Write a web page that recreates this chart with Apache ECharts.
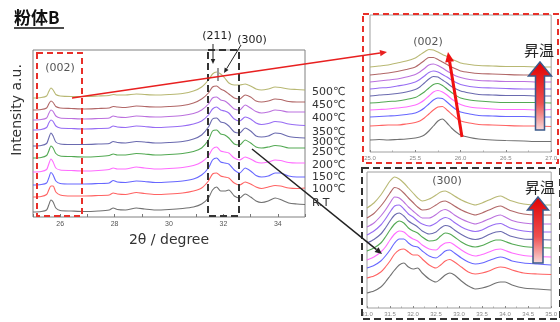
<!DOCTYPE html>
<html>
<head>
<meta charset="utf-8">
<script src="https://cdn.jsdelivr.net/npm/echarts@6/dist/echarts.min.js"></script>
<style>
html, body { margin: 0; padding: 0; background: #fff; }
#chart { width: 560px; height: 322px; }
</style>
</head>
<body>
<div id="chart"></div>
<script>
// traces, bottom to top
const tempLabels = ['R.T', '100℃', '150℃', '200℃', '250℃', '300℃', '350℃', '400℃', '450℃', '500℃'];
const traceColors = ['#626262', '#ff5252', '#5656ff', '#ff5cff', '#40a040', '#5a5aa6', '#8c5cf2', '#b462da', '#a85656', '#b0b064'];

// main panel: 2θ 25-35
const mainX = [25.0, 25.3, 25.5, 25.58, 25.66, 25.74, 25.84, 26.0, 26.4, 26.9, 27.4, 27.8, 27.95, 28.1, 28.4, 28.8, 29.1, 29.5, 30.0, 30.5, 30.9, 31.2, 31.45, 31.6, 31.75, 31.9, 32.05, 32.2, 32.4, 32.6, 32.8, 33.0, 33.2, 33.4, 33.65, 33.9, 34.1, 34.4, 34.7, 35.0];
const mainOffset = [5, 20, 32, 45, 59, 71, 87, 97, 107, 119];
const mainTraces = [
  [0, 0.5, 2, 7, 12, 10, 4, 1.5, 1, 0.5, 1, 2, 4, 2.5, 2, 4, 3, 2, 2.5, 3.5, 5, 8, 14, 22, 25, 21, 21, 22, 16, 14, 18, 15, 11, 9.5, 11, 14, 12.5, 9, 8, 7.5],
  [0, 0.5, 2.5, 7, 11, 11, 5, 2, 1, 1, 1.5, 2, 4, 3, 2.5, 4.5, 3.5, 2.5, 3, 4, 6, 9, 16, 23, 24, 21, 20, 19, 14, 12, 15, 13, 10, 8.5, 10, 11.5, 11, 9, 8.5, 9],
  [0, 0.5, 2, 7, 12.5, 10, 4, 1.5, 1, 1, 1.5, 2, 4.5, 3, 2.5, 4, 3.5, 2.5, 3, 4, 6, 10, 17, 25, 27, 23, 22, 21, 15, 12, 17, 14, 9.5, 8, 9, 12, 12, 9, 8, 8],
  [0, 0.5, 2.5, 8, 13, 10, 4, 2, 1.5, 1, 1.5, 2.5, 4, 3, 3, 5, 4, 3, 3.5, 4.5, 6.5, 10, 16, 23, 25, 21, 20, 19, 14, 12, 15, 13, 10, 9, 10, 12, 11.5, 9.5, 9, 9],
  [0, 0.5, 2.5, 7, 12, 10, 4.5, 2, 1.5, 1, 1.5, 2.5, 4, 3, 3, 4.5, 4, 3, 3.5, 4.5, 6.5, 10, 18, 27, 28, 24, 23, 20, 14, 13, 18, 15, 11, 10, 11, 12.5, 12, 10, 10, 10],
  [0, 0.5, 2.5, 8, 13, 10, 4, 2, 1.5, 1.5, 2, 2.5, 4.5, 3.5, 3, 4.5, 4, 3, 3.5, 4.5, 7, 11, 19, 27, 28, 24, 23, 20, 14, 13, 18, 15, 10, 9, 10, 13, 12.5, 9.5, 8.5, 8],
  [0, 0.5, 2.5, 7, 10, 8.5, 4, 2, 1.5, 1, 1.5, 2, 4, 3, 2.5, 4, 3.5, 2.5, 3, 4, 6, 9, 15, 21, 23, 20, 19, 17, 11, 9, 13, 11, 7, 5.5, 6.5, 8.5, 8, 6, 5, 4.5],
  [0, 0.5, 2, 6.5, 10, 8.5, 4, 2, 1.5, 1, 1.5, 2, 4, 3, 2.5, 4, 3.5, 3, 3.5, 4.5, 6.5, 10, 16, 22, 23, 20, 19, 16, 11, 10, 15, 12, 8.5, 7, 8, 10, 9.5, 8, 8, 8],
  [0, 0.5, 2, 6, 9, 7.5, 3.5, 2, 1.5, 1, 1.5, 2, 3.5, 3, 2.5, 4, 3.5, 3, 3.5, 4.5, 7, 11, 17, 23, 24, 21, 19, 16, 12, 11, 15, 13, 9, 8, 9, 11, 10.5, 8.5, 8, 8],
  [0, 0.5, 2, 6.5, 10, 8, 3.5, 2, 1.5, 1.5, 2, 2.5, 3.5, 3, 3, 4, 3.5, 3, 3.5, 4.5, 7, 11, 18, 24, 26, 24, 20, 15, 13, 13, 14, 12, 9, 8, 9, 11, 10.5, 9, 8.5, 8]
];

// inset (002): 25.0-27.0
const inset1X = [25.0, 25.1, 25.2, 25.3, 25.4, 25.5, 25.55, 25.6, 25.65, 25.7, 25.75, 25.8, 25.85, 25.9, 25.95, 26.0, 26.1, 26.2, 26.35, 26.5, 26.7, 26.85, 27.0];
const inset1Offset = [12, 26, 35, 42, 49, 56, 63, 70, 77, 85];
const inset1Traces = [
  [0, 0.5, 0, 0.5, 1, 2, 3, 5, 9, 14, 19, 21, 17, 12, 8, 5, 2.5, 1, 0, -0.5, -1, -1.5, -1.5],
  [0, 0.5, 1, 1, 2, 3.5, 5, 8, 12, 16, 19, 19.5, 16, 12, 8, 5, 3, 1.5, 1, 0.5, 0, 0, -0.5],
  [0, 0.5, 1, 1.5, 2.5, 4, 6, 9, 13, 17, 19, 18.5, 15, 11, 7.5, 5, 3, 1.5, 1, 0.5, 0.5, 0, 0],
  [0, 0.5, 1, 2, 3, 5, 7, 10, 14, 18, 19.5, 18, 15, 11, 8, 5.5, 3, 2, 1, 0.5, 0.5, 0, 0.5],
  [0, 0.5, 1.5, 2, 3.5, 5.5, 8, 11, 15, 18.5, 19.5, 17.5, 14, 10.5, 7.5, 5, 3, 2, 1, 0.5, 0.5, 0.5, 0],
  [0, 1, 1.5, 2.5, 4, 6.5, 9, 13, 17, 19.5, 19, 16, 13, 9.5, 7, 5, 3, 1.5, 1, 0.5, 0.5, 0, 0],
  [0, 1, 1.5, 3, 4.5, 7, 9.5, 13, 16.5, 18, 17, 14.5, 12, 9, 6.5, 4.5, 2.5, 1.5, 1, 0.5, 0, 0, 0],
  [0, 1, 2, 3, 5, 7.5, 10, 13.5, 17, 18, 16.5, 14, 11, 8.5, 6, 4.5, 2.5, 1.5, 1, 0.5, 0.5, 0, 0],
  [0, 1, 2, 3.5, 5.5, 8, 11, 14.5, 17.5, 17.5, 15.5, 13, 10.5, 8, 6, 4, 2.5, 1.5, 1, 0.5, 0, 0, 0],
  [0, 1, 2, 4, 6, 9, 12, 15, 17.5, 17, 15, 12.5, 10.5, 8, 6, 4, 2.5, 1.5, 1, 0.5, 0.5, 0, 0]
];

// inset (300): 31.0-35.0
const inset2X = [31.0, 31.15, 31.3, 31.4, 31.5, 31.6, 31.7, 31.8, 31.9, 32.0, 32.1, 32.2, 32.35, 32.5, 32.6, 32.7, 32.8, 32.9, 33.05, 33.2, 33.35, 33.5, 33.65, 33.8, 33.9, 34.0, 34.15, 34.4, 34.7, 35.0];
const inset2Offset = [15, 30, 40, 48, 57, 65, 73, 81, 90, 100];
const inset2Traces = [
  [0, 2, 6, 11, 17, 23, 28, 30, 26, 24, 25, 20, 14, 11, 14, 18, 20, 18, 12, 7, 4, 5, 7, 10, 11, 11, 8, 5, 4, 3],
  [0, 2, 6, 11, 17, 24, 28, 29, 26, 23, 23, 19, 13, 10, 13, 17, 18.5, 16, 11, 6, 4, 5, 7, 10, 11, 10.5, 8, 5, 4, 3.5],
  [0, 2.5, 7, 12, 18, 25, 29, 29, 25, 22, 21, 17, 12, 10, 13, 17, 18, 15, 10, 6, 4, 5, 7.5, 10, 11, 10, 7, 5, 4, 3],
  [0, 3, 8, 13, 20, 26, 29, 28, 24, 21, 19, 15, 11, 10, 14, 17, 17.5, 15, 10, 6, 4, 5.5, 8, 10.5, 11, 9.5, 7, 4.5, 3.5, 3],
  [0, 3, 8, 14, 21, 27, 30, 28, 23, 20, 18, 14, 10, 11, 15, 18, 17, 14, 9, 5.5, 4, 5.5, 8.5, 11, 11, 9.5, 7, 4.5, 3.5, 3],
  [0, 3.5, 9, 15, 22, 28, 30, 27, 22, 19, 16, 12, 9, 11, 15, 17.5, 16.5, 13, 8.5, 5, 3.5, 5, 8.5, 11, 11.5, 9.5, 6.5, 4, 3.5, 3],
  [0, 4, 10, 16, 23, 29, 30, 26, 21, 18, 14, 11, 9, 12, 15.5, 17.5, 16, 12.5, 8, 5, 3.5, 5, 8.5, 11, 11.5, 9.5, 6.5, 4, 3, 3],
  [0, 4, 11, 17, 24, 30, 29, 25, 20, 16, 12, 9, 9, 12.5, 16, 17.5, 15.5, 12, 8, 5, 3, 5, 8, 11, 12, 10, 6.5, 4, 3, 3],
  [0, 4.5, 12, 18, 25, 30.5, 29, 25, 20, 15.5, 11, 8, 9, 13, 16, 17, 15, 12, 8, 5, 3, 5, 8, 11, 12, 10, 7, 4, 3, 3],
  [0, 5, 13, 20, 27, 31, 29, 25, 20, 15, 10, 7, 9, 13, 16, 17, 15, 12, 8, 5, 3, 5, 8, 11, 12, 10, 7, 4, 3, 3]
];

const labelY = [203, 189, 177, 165, 152, 142, 132, 118, 105, 92];

const chart = echarts.init(document.getElementById('chart'));

function buildSeries(xs, traces, offsets, idx) {
  return traces.map((ys, i) => ({
    type: 'line',
    name: tempLabels[i],
    xAxisIndex: idx,
    yAxisIndex: idx,
    data: xs.map((x, j) => [x, ys[j] + offsets[i]]),
    showSymbol: false,
    smooth: 0.25,
    silent: true,
    lineStyle: { width: 1.1, color: traceColors[i], opacity: 0.9 }
  }));
}

function arrow(x1, y1, x2, y2, color, w, head) {
  const a = Math.atan2(y2 - y1, x2 - x1);
  const bx = x2 - head * Math.cos(a), by = y2 - head * Math.sin(a);
  const hw = head * 0.45;
  return [
    { type: 'line', z: 100, shape: { x1: x1, y1: y1, x2: bx, y2: by }, style: { stroke: color, lineWidth: w } },
    { type: 'polygon', z: 100, shape: { points: [[x2, y2], [bx + hw * Math.sin(a), by - hw * Math.cos(a)], [bx - hw * Math.sin(a), by + hw * Math.cos(a)]] }, style: { fill: color } }
  ];
}

function bigArrow(cx, top, headBase, bottom, headHalf, shaftHalf) {
  return {
    type: 'polygon', z: 100,
    shape: { points: [[cx, top], [cx + headHalf, headBase], [cx + shaftHalf, headBase], [cx + shaftHalf, bottom], [cx - shaftHalf, bottom], [cx - shaftHalf, headBase], [cx - headHalf, headBase]] },
    style: {
      fill: { type: 'linear', x: 0, y: 0, x2: 0, y2: 1, colorStops: [{ offset: 0, color: '#e00000' }, { offset: 0.6, color: '#ee5050' }, { offset: 1, color: '#f8dede' }] },
      stroke: '#3b5a8a', lineWidth: 1.5
    }
  };
}

function txt(x, y, s, font, color, align) {
  return { type: 'text', z: 100, x: x, y: y, style: { text: s, font: font, fill: color, align: align || 'center', verticalAlign: 'middle' } };
}

const latin = '"DejaVu Sans", Verdana, sans-serif';
const cjk = '"Noto Sans CJK JP", sans-serif';

const graphics = [
  txt(14, 18, '粉体B', 'bold 17px ' + cjk, '#111', 'left'),
  { type: 'line', z: 100, shape: { x1: 14, y1: 28, x2: 64, y2: 28 }, style: { stroke: '#111', lineWidth: 1.5 } },
  { type: 'text', z: 100, x: 17, y: 110, rotation: Math.PI / 2, style: { text: 'Intensity a.u.', font: '14px ' + latin, fill: '#333', align: 'center', verticalAlign: 'middle' } },
  { type: 'rect', z: 99, shape: { x: 37, y: 53, width: 45, height: 163 }, style: { fill: 'none', stroke: '#e8302a', lineWidth: 2, lineDash: [6, 4] } },
  { type: 'rect', z: 99, shape: { x: 208, y: 50, width: 31, height: 166 }, style: { fill: 'none', stroke: '#333', lineWidth: 2, lineDash: [7, 4] } },
  txt(60, 68, '(002)', '11px ' + latin, '#555'),
  txt(217, 36, '(211)', '11px ' + latin, '#222'),
  txt(252, 40, '(300)', '11px ' + latin, '#222'),
  { type: 'line', z: 100, shape: { x1: 218, y1: 68, x2: 218, y2: 81 }, style: { stroke: '#999', lineWidth: 2 } },
  // inset 1 box and notes
  { type: 'rect', z: 99, shape: { x: 363, y: 14, width: 195, height: 149 }, style: { fill: 'none', stroke: '#e8302a', lineWidth: 2, lineDash: [6, 4] } },
  txt(428, 42, '(002)', '11px ' + latin, '#555'),
  txt(539, 50, '昇温', '15px ' + cjk, '#222'),
  bigArrow(540, 62, 76, 130, 11.5, 4.5),
  // inset 2 box and notes
  { type: 'rect', z: 99, shape: { x: 362, y: 168, width: 198, height: 151 }, style: { fill: 'none', stroke: '#333', lineWidth: 2, lineDash: [7, 4] } },
  txt(447, 181, '(300)', '11px ' + latin, '#555'),
  txt(540, 187, '昇温', '15px ' + cjk, '#222'),
  bigArrow(538, 197, 210, 263, 10.5, 5)
]
  .concat(arrow(213, 44, 213, 64, '#222', 1, 5))
  .concat(arrow(241, 45, 224, 73, '#222', 1, 5))
  .concat(arrow(72, 98, 387, 52, '#e82020', 1.5, 7))
  .concat(arrow(252, 149, 382, 254, '#222', 1.5, 7))
  .concat(arrow(462, 137, 448, 52, '#f01010', 3, 10))
  .concat(tempLabels.map((s, i) => txt(312, labelY[i], s, '11px ' + latin, '#333', 'left')));

const axisCommon = {
  type: 'value',
  axisLine: { show: false },
  splitLine: { show: false }
};

chart.setOption({
  animation: false,
  backgroundColor: '#fff',
  grid: [
    { left: 33, top: 50, width: 272, height: 167, show: true, borderColor: '#808080', borderWidth: 1, backgroundColor: 'transparent' },
    { left: 370, top: 15, width: 183, height: 137, show: true, borderColor: '#a0a0a0', borderWidth: 1, backgroundColor: 'transparent' },
    { left: 367, top: 172, width: 188, height: 136, show: true, borderColor: '#a0a0a0', borderWidth: 1, backgroundColor: 'transparent' }
  ],
  xAxis: [
    Object.assign({}, axisCommon, {
      gridIndex: 0, min: 25, max: 35, interval: 1,
      axisTick: { show: true, inside: true, length: 3, lineStyle: { color: '#777' } },
      axisLabel: { fontSize: 7, color: '#555', margin: 4, formatter: v => (v % 2 === 0 ? String(v) : '') },
      name: '2θ / degree', nameLocation: 'middle', nameGap: 15,
      nameTextStyle: { fontSize: 14, color: '#333', fontFamily: 'DejaVu Sans' }
    }),
    Object.assign({}, axisCommon, {
      gridIndex: 1, min: 25, max: 27, interval: 0.5,
      axisTick: { show: true, inside: true, length: 2, lineStyle: { color: '#888' } },
      minorTick: { show: true, splitNumber: 2, length: 1.5, lineStyle: { color: '#aaa' } },
      axisLabel: { fontSize: 6, color: '#888', margin: 3, formatter: v => v.toFixed(1) }
    }),
    Object.assign({}, axisCommon, {
      gridIndex: 2, min: 31, max: 35, interval: 0.5,
      axisTick: { show: true, inside: true, length: 2, lineStyle: { color: '#888' } },
      minorTick: { show: true, splitNumber: 2, length: 1.5, lineStyle: { color: '#aaa' } },
      axisLabel: { fontSize: 6, color: '#888', margin: 3, formatter: v => v.toFixed(1) }
    })
  ],
  yAxis: [
    Object.assign({}, axisCommon, { gridIndex: 0, min: 0, max: 167, axisLabel: { show: false }, axisTick: { show: false } }),
    Object.assign({}, axisCommon, { gridIndex: 1, min: 0, max: 137, axisLabel: { show: false }, axisTick: { show: false } }),
    Object.assign({}, axisCommon, { gridIndex: 2, min: 0, max: 136, axisLabel: { show: false }, axisTick: { show: false } })
  ],
  series: []
    .concat(buildSeries(mainX, mainTraces, mainOffset, 0))
    .concat(buildSeries(inset1X, inset1Traces, inset1Offset, 1))
    .concat(buildSeries(inset2X, inset2Traces, inset2Offset, 2)),
  graphic: graphics
});
</script>
</body>
</html>
